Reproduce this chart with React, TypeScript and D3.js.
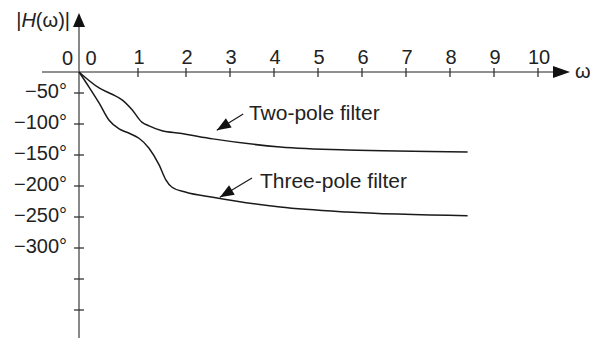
import React from "react";
import * as d3 from "d3";

const omegaTicks = [1, 2, 3, 4, 5, 6, 7, 8, 9, 10];
const phaseTicks = [-50, -100, -150, -200, -250, -300];
const extraPhaseTicks = [-350, -400];

const twoPole: [number, number][] = [
  [0, 0], [0.34, -38], [0.56, -52], [0.73, -61], [0.9, -77], [1.08, -97],
  [1.23, -103], [1.5, -111], [1.875, -115], [2.61, -124], [4.14, -137],
  [5.66, -142], [8.4, -145],
];
const threePole: [number, number][] = [
  [0, 0], [0.17, -36], [0.34, -66], [0.51, -94], [0.68, -108], [0.85, -115],
  [1.02, -123], [1.23, -139], [1.44, -166], [1.58, -190], [1.71, -202],
  [2.0, -210], [2.61, -218], [4.14, -234], [5.66, -242], [8.4, -248],
];

const annotations = [
  { text: "Two-pole filter", tip: [2.7, -110], tail: [3.3, -84], label: [3.43, -93.5] },
  { text: "Three-pole filter", tip: [2.77, -218], tail: [3.5, -187], label: [3.68, -203] },
];

const W = 590, H = 339;
const FONT = "Liberation Sans, Arial, Helvetica, sans-serif";

export default function App() {
  const x = d3.scaleLinear().domain([0, 1, 2, 10]).range([79, 138, 186, 538]);
  const y = d3.scaleLinear().domain([0, -50, -300]).range([72, 93, 248]);
  const line = d3
    .line<[number, number]>()
    .x((d) => x(d[0]))
    .y((d) => y(d[1]))
    .curve(d3.curveMonotoneX);

  const x0 = x(0), y0 = y(0);
  const axisColor = "#6b6b6b";
  const textColor = "#222";

  const arrowHead = (tx: number, ty: number, fx: number, fy: number, len: number, hw: number) => {
    const ang = Math.atan2(ty - fy, tx - fx);
    const bx = tx - len * Math.cos(ang), by = ty - len * Math.sin(ang);
    const px = -Math.sin(ang) * hw, py = Math.cos(ang) * hw;
    return `M${tx},${ty}L${bx + px},${by + py}L${bx - px},${by - py}Z`;
  };

  return (
    <svg width={W} height={H} style={{ position: "absolute", left: 0, top: 0, background: "#fff" }}>
      <line x1={42} y1={y0} x2={556} y2={y0} stroke={axisColor} strokeWidth={1.6} />
      <path d={`M570,${y0}L553,${y0 - 6}L553,${y0 + 6}Z`} fill="#111" />
      <line x1={x0} y1={24} x2={x0} y2={338} stroke={axisColor} strokeWidth={1.6} />
      <path d={`M${x0},13L${x0 - 6},27L${x0 + 6},27Z`} fill="#111" />

      {omegaTicks.map((t) => (
        <g key={"x" + t}>
          <line x1={x(t)} x2={x(t)} y1={y0 - 4} y2={y0 + 5} stroke="#333" strokeWidth={1.3} />
          <text x={x(t) + 1} y={y0 - 8} textAnchor="middle" fontFamily={FONT} fontSize={20} fill={textColor}>
            {t}
          </text>
        </g>
      ))}
      <text x={x0 + 12} y={y0 - 7} textAnchor="middle" fontFamily={FONT} fontSize={20} fill={textColor}>0</text>
      <text x={x0 - 6} y={y0 - 7} textAnchor="end" fontFamily={FONT} fontSize={20} fill={textColor}>0</text>

      {phaseTicks.map((t) => (
        <g key={"y" + t}>
          <line x1={x0 - 5} x2={x0 + 5} y1={y(t)} y2={y(t)} stroke="#333" strokeWidth={1.3} />
          <text x={x0 - 12} y={y(t) + 5} textAnchor="end" fontFamily={FONT} fontSize={20} fill={textColor}>
            {"\u2212" + Math.abs(t) + "\u00b0"}
          </text>
        </g>
      ))}
      {extraPhaseTicks.map((t) => (
        <line key={"e" + t} x1={x0 - 5} x2={x0 + 5} y1={y(t)} y2={y(t)} stroke="#333" strokeWidth={1.3} />
      ))}

      <text x={70} y={27} textAnchor="end" fontFamily={FONT} fontSize={20} fill={textColor}>
        |<tspan fontStyle="italic">H</tspan>(ω)|
      </text>
      <text x={575} y={78} fontFamily={FONT} fontSize={20} fill={textColor}>ω</text>

      <path d={line(twoPole) || ""} fill="none" stroke="#1a1a1a" strokeWidth={1.5} />
      <path d={line(threePole) || ""} fill="none" stroke="#1a1a1a" strokeWidth={1.5} />

      {annotations.map((a) => {
        const tx = x(a.tip[0]), ty = y(a.tip[1]);
        const fx = x(a.tail[0]), fy = y(a.tail[1]);
        return (
          <g key={a.text}>
            <line x1={fx} y1={fy} x2={tx} y2={ty} stroke="#1a1a1a" strokeWidth={1.2} />
            <path d={arrowHead(tx, ty, fx, fy, 14, 5.5)} fill="#111" />
            <text x={x(a.label[0])} y={y(a.label[1])} fontFamily={FONT} fontSize={21} fill={textColor}>
              {a.text}
            </text>
          </g>
        );
      })}
    </svg>
  );
}
